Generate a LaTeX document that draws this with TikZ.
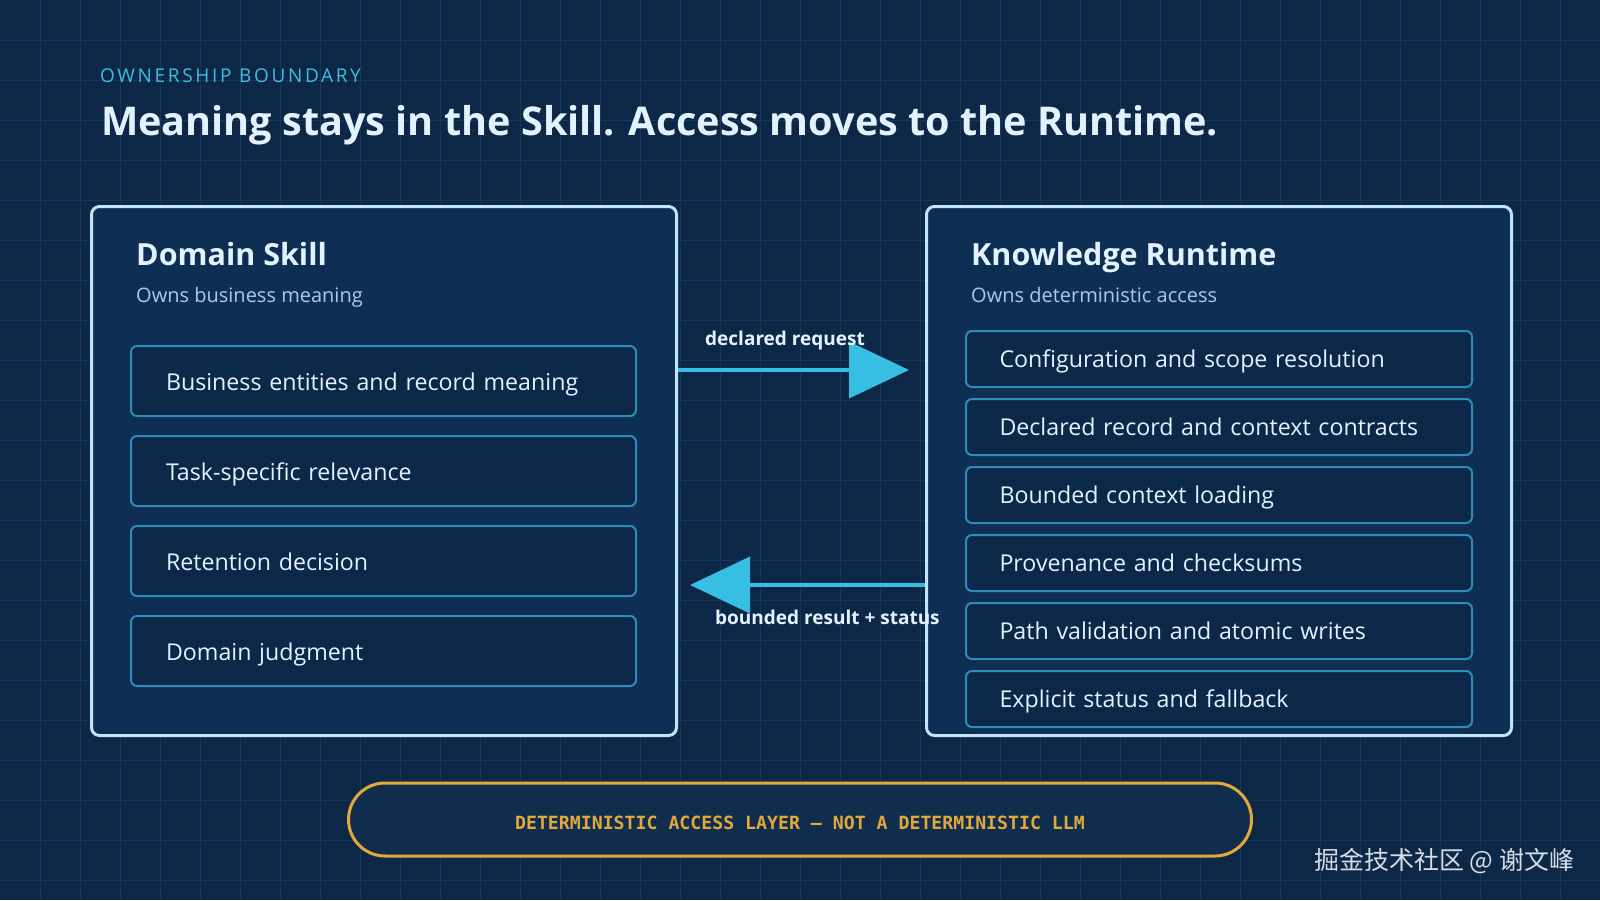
\documentclass[tikz,border=0pt]{standalone}
\usepackage{fontspec}
\setmainfont{Open Sans}
\setmonofont{DejaVu Sans Mono}
\newfontfamily\cjkfont{Noto Sans CJK SC}
\usetikzlibrary{arrows.meta}

\definecolor{bgnavy}{HTML}{0D2847}
\definecolor{gridnavy}{HTML}{15375B}
\definecolor{panelfill}{HTML}{0F2E54}
\definecolor{panelline}{HTML}{BFE5F8}
\definecolor{itemfill}{HTML}{0C2849}
\definecolor{itemline}{HTML}{2B8DB8}
\definecolor{flowcyan}{HTML}{36BEE3}
\definecolor{titlewhite}{HTML}{E2F3FF}
\definecolor{subblue}{HTML}{A8CBE6}
\definecolor{kickercyan}{HTML}{3DBEE0}
\definecolor{layergold}{HTML}{E2A83C}
\definecolor{layerfill}{HTML}{112D4E}
\definecolor{marktext}{HTML}{D4DCE4}

\tikzset{
	panel/.style={draw=panelline, line width=3pt, fill=panelfill, rounded corners=8pt, minimum width=585pt, minimum height=529pt, anchor=north west, inner sep=0pt},
	paneltitle/.style={anchor=base west, inner sep=0pt, text=titlewhite, font=\fontsize{30.5}{36}\selectfont\bfseries},
	panelsub/.style={anchor=base west, inner sep=0pt, text=subblue, font=\fontsize{20}{24}\selectfont},
	skillitem/.style={draw=itemline, line width=2pt, fill=itemfill, rounded corners=6pt, anchor=north west, minimum height=70pt, text width=435pt, inner xsep=35pt, inner ysep=0pt, text height=18.5pt, text depth=0pt, align=left, text=titlewhite, font=\fontsize{23.2}{28}\selectfont},
	runtimeitem/.style={skillitem, minimum height=56pt, text width=439pt, inner xsep=33.5pt, text height=17.5pt},
	flow/.style={draw=flowcyan, line width=4pt, -{Triangle[length=60pt, width=56pt]}},
	flowlabel/.style={anchor=base west, inner sep=0pt, text=titlewhite, font=\fontsize{19}{23}\selectfont\bfseries},
}

\begin{document}
\begin{tikzpicture}[x=1pt, y=-1pt]
			%%%%% START %%%%%
			
			\useasboundingbox (0, 0) rectangle (1600, 900);
			\fill[bgnavy] (0, 0) rectangle (1600, 900);
			\foreach \gx in {40, 80, ..., 1560}
				\draw[gridnavy, line width=1pt] (\gx, 0) -- (\gx, 900);
			\foreach \gy in {40, 80, ..., 880}
				\draw[gridnavy, line width=1pt] (0, \gy) -- (1600, \gy);
			
			\node[anchor=base west, inner sep=0pt, text=kickercyan, font=\fontsize{19}{22}\selectfont\addfontfeature{LetterSpace=14}] (kicker) at (100, 82) {OWNERSHIP BOUNDARY};
			\node[anchor=base west, inner sep=0pt, text=titlewhite, font=\fontsize{39.6}{48}\selectfont\bfseries] (headline) at (101, 135) {Meaning stays in the Skill. Access moves to the Runtime.};
			
			\node[panel] (skill) at (90, 205) {};
			\node[paneltitle] (skilltitle) at (136, 265) {Domain Skill};
			\node[panelsub] (skillsub) at (136, 302) {Owns business meaning};
			\node[skillitem] (entities) at (130, 345) {Business entities and record meaning};
			\node[skillitem] (relevance) at (130, 435) {Task-specific relevance};
			\node[skillitem] (retention) at (130, 525) {Retention decision};
			\node[skillitem] (judgment) at (130, 615) {Domain judgment};
			
			\node[panel] (runtime) at (925, 205) {};
			\node[paneltitle] (runtimetitle) at (971, 265) {Knowledge Runtime};
			\node[panelsub] (runtimesub) at (971, 302) {Owns deterministic access};
			\node[runtimeitem] (config) at (965, 330) {Configuration and scope resolution};
			\node[runtimeitem] (contracts) at (965, 398) {Declared record and context contracts};
			\node[runtimeitem] (loading) at (965, 466) {Bounded context loading};
			\node[runtimeitem] (provenance) at (965, 534) {Provenance and checksums};
			\node[runtimeitem] (writes) at (965, 602) {Path validation and atomic writes};
			\node[runtimeitem] (fallback) at (965, 670) {Explicit status and fallback};
			
			\coordinate (reqtip) at (909, 370);
			\coordinate (restip) at (690, 585);
			\draw[flow] (skill.east |- reqtip) -- (reqtip);
			\draw[flow] (runtime.west |- restip) -- (restip);
			\node[flowlabel] (reqlabel) at (705, 345) {declared request};
			\node[flowlabel] (reslabel) at (715, 624) {bounded result + status};
			
			\node[draw=layergold, line width=3pt, fill=layerfill, rounded corners=36.5pt, minimum width=903pt, minimum height=73pt, inner sep=0pt, text height=20pt, text depth=0pt, text=layergold, font=\fontsize{18.2}{22}\selectfont\ttfamily\bfseries] (layer) at (800, 819.5) {DETERMINISTIC ACCESS LAYER — NOT A DETERMINISTIC LLM};
			
			\node[anchor=west, inner sep=0pt, text=marktext, font=\fontsize{25}{29}\selectfont\cjkfont] (mark) at (1314, 861) {掘金技术社区 @ 谢文峰};
			
			%%%%% END %%%%%
\end{tikzpicture}
\end{document}
